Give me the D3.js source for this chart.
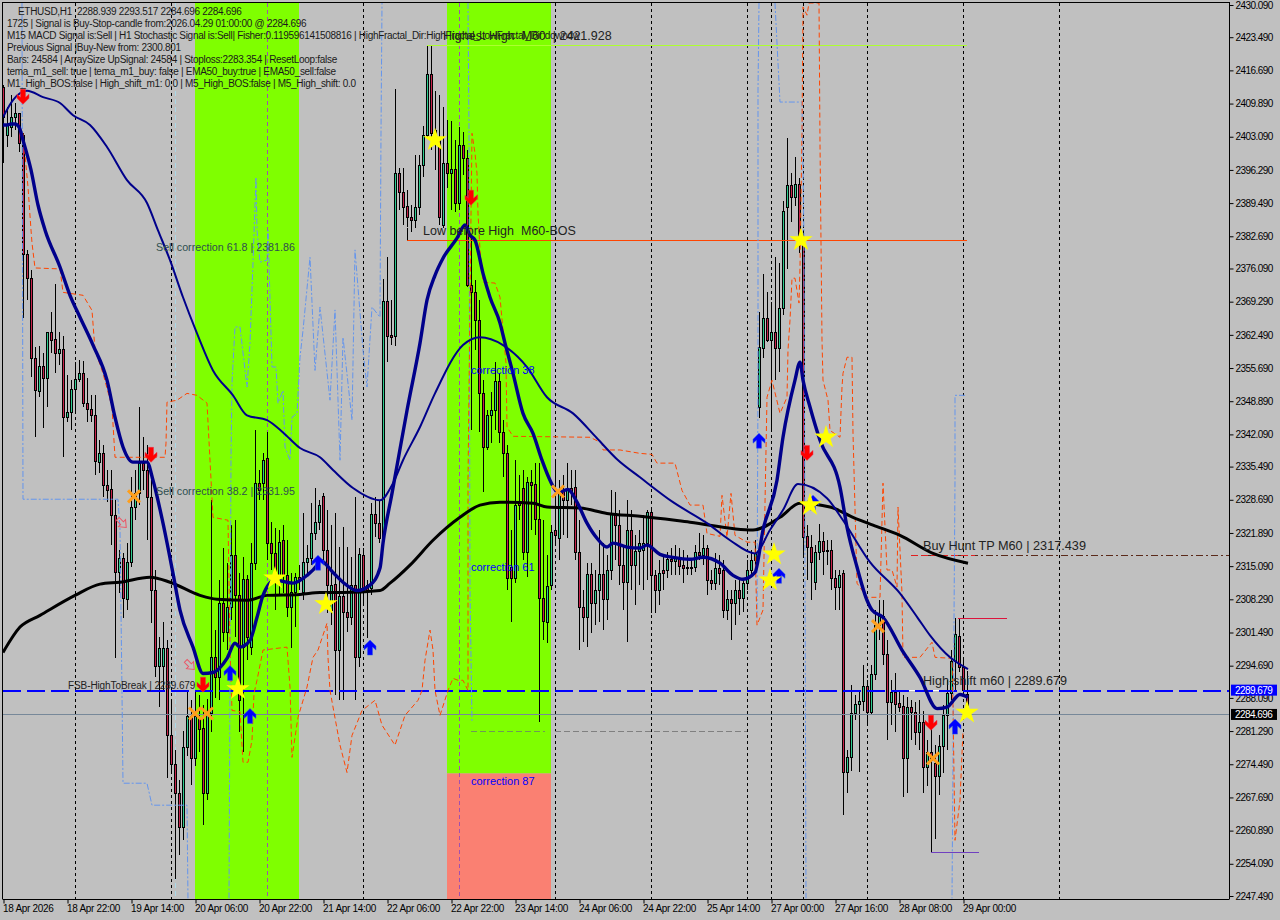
<!DOCTYPE html>
<html><head><meta charset="utf-8">
<script src="https://cdnjs.cloudflare.com/ajax/libs/d3/7.8.5/d3.min.js"></script>
<style>html,body{margin:0;padding:0;background:#c0c0c0;overflow:hidden}svg{display:block}text{font-family:"Liberation Sans",sans-serif}</style>
</head><body><div id="c"></div><script>
const opens=[2413.3,2403.4,2405.1,2407.1,2407.9,2403.4,2379.0,2374.1,2357.7,2350.9,
2356.1,2353.6,2363.0,2361.6,2358.7,2359.6,2345.6,2346.6,2351.3,2353.4,
2354.6,2348.5,2347.3,2346.0,2336.4,2338.2,2331.7,2330.9,2325.5,2313.8,
2316.7,2308.3,2315.9,2327.2,2330.0,2336.2,2334.8,2329.2,2310.1,2294.6,
2294.6,2298.3,2280.4,2274.5,2268.7,2261.6,2278.0,2284.3,2275.7,2283.9,
2281.9,2268.7,2284.9,2296.4,2292.3,2307.5,2301.5,2306.7,2317.3,2309.1,
2298.5,2312.4,2298.5,2315.7,2332.1,2332.1,2337.2,2319.8,2317.7,2313.2,
2320.4,2313.2,2306.7,2309.7,2312.8,2309.7,2315.9,2316.7,2321.8,2324.1,
2329.4,2318.5,2306.1,2311.4,2297.9,2308.9,2305.6,2304.6,2311.2,2296.4,
2317.3,2311.2,2310.6,2325.7,2323.9,2320.8,2369.4,2362.4,2362.2,2395.6,
2391.7,2388.9,2386.6,2386.0,2388.7,2397.3,2403.4,2415.9,2404.5,2402.4,
2385.0,2397.7,2395.6,2396.5,2389.5,2401.4,2398.7,2372.7,2371.2,2365.5,
2350.5,2339.5,2346.0,2347.0,2353.0,2342.5,2338.2,2314.9,2312.6,2328.2,
2331.1,2318.0,2332.3,2331.9,2324.7,2308.5,2303.6,2311.2,2322.5,2320.8,
2330.6,2328.6,2331.1,2331.3,2318.0,2306.7,2304.6,2313.4,2307.5,2310.1,
2313.4,2308.3,2314.3,2325.9,2323.5,2315.3,2311.8,2322.5,2315.3,2318.1,
2318.3,2319.8,2326.1,2313.2,2310.1,2314.4,2314.3,2316.5,2316.1,2316.9,
2315.3,2314.9,2314.7,2314.9,2318.0,2317.3,2318.8,2312.2,2311.6,2314.7,
2314.2,2306.1,2308.3,2307.5,2310.1,2308.5,2311.6,2314.3,2316.3,2347.7,
2359.8,2365.9,2361.4,2363.0,2359.8,2367.9,2388.7,2393.2,2390.7,2393.4,
2381.9,2321.2,2319.0,2311.8,2318.0,2320.2,2318.5,2318.3,2312.6,2310.8,
2313.6,2273.0,2275.9,2284.9,2286.8,2287.4,2290.5,2285.3,2292.9,2303.0,
2304.8,2297.0,2287.2,2289.2,2287.0,2286.4,2275.7,2286.2,2285.3,2281.0,
2283.1,2273.9,2276.9,2274.7,2272.0,2278.2,2284.5,2289.0,2295.6,2300.7,
2294.4,2288.939];
const highs=[2413.7,2409.2,2411.6,2410.0,2407.9,2403.8,2379.9,2375.7,2360.0,2360.2,
2358.7,2363.0,2367.1,2372.9,2363.0,2362.2,2354.2,2353.2,2356.9,2357.3,
2357.1,2353.6,2350.1,2350.1,2340.9,2339.9,2334.8,2334.8,2328.6,2318.3,
2317.7,2319.8,2333.3,2334.8,2347.7,2341.5,2339.9,2332.7,2314.3,2300.5,
2303.6,2299.9,2287.6,2277.4,2271.2,2281.4,2289.4,2287.6,2289.6,2288.6,
2286.6,2287.8,2328.6,2302.0,2312.2,2318.8,2315.7,2323.5,2324.5,2313.6,
2316.9,2313.2,2319.8,2342.9,2334.8,2338.2,2342.5,2324.1,2322.9,2322.5,
2323.5,2320.4,2313.6,2313.6,2315.3,2325.9,2319.4,2328.0,2331.1,2328.6,
2330.0,2326.5,2323.5,2325.9,2319.0,2323.1,2319.0,2316.9,2329.2,2318.8,
2318.8,2312.2,2328.0,2329.2,2328.6,2373.9,2378.4,2369.6,2412.9,2396.7,
2396.7,2392.1,2389.1,2399.3,2399.3,2405.3,2421.7,2421.9,2412.4,2411.6,
2409.2,2406.5,2406.3,2402.4,2405.1,2404.0,2400.4,2382.9,2373.7,2369.6,
2353.2,2347.0,2350.7,2356.9,2354.6,2345.0,2339.9,2322.5,2336.8,2333.7,
2334.8,2333.3,2334.8,2336.2,2336.2,2324.5,2317.3,2323.5,2336.8,2332.7,
2333.7,2336.2,2334.8,2334.8,2324.5,2310.1,2315.7,2315.7,2314.3,2322.5,
2319.8,2317.3,2330.6,2330.2,2326.5,2319.4,2328.6,2326.5,2321.4,2322.5,
2325.5,2326.5,2326.5,2314.3,2316.3,2317.3,2318.0,2318.8,2319.4,2318.8,
2318.3,2317.3,2316.3,2319.4,2321.8,2321.4,2319.4,2314.3,2317.7,2317.3,
2316.3,2310.1,2310.1,2312.2,2312.2,2312.2,2316.3,2318.3,2320.4,2367.1,
2374.9,2371.2,2369.2,2378.4,2377.2,2389.9,2402.8,2395.6,2398.9,2394.6,
2383.9,2323.5,2321.4,2319.4,2323.7,2322.0,2320.4,2320.4,2314.3,2314.3,
2314.3,2277.4,2290.7,2288.6,2289.6,2294.8,2291.7,2294.8,2306.1,2308.1,
2308.1,2299.9,2291.7,2293.1,2289.6,2288.6,2288.2,2287.6,2287.2,2287.6,
2285.5,2279.4,2283.1,2278.4,2280.4,2286.6,2291.7,2297.9,2304.4,2304.4,
2295.8,2293.517];
const lows=[2397.7,2401.0,2403.0,2404.5,2399.9,2365.9,2369.6,2353.8,2341.5,2349.7,
2343.4,2347.7,2358.7,2354.6,2356.3,2337.4,2344.6,2342.9,2346.6,2352.8,
2347.7,2344.6,2344.6,2333.7,2334.1,2329.2,2328.2,2319.4,2296.2,2309.5,
2304.4,2306.1,2314.9,2324.5,2327.6,2330.6,2320.4,2303.4,2292.3,2286.2,
2289.6,2271.6,2272.6,2250.9,2255.8,2258.9,2276.1,2270.2,2274.1,2277.1,
2262.0,2267.1,2281.0,2288.0,2287.6,2299.5,2297.9,2304.0,2300.5,2281.2,
2277.1,2295.8,2296.8,2314.3,2328.6,2328.6,2316.3,2314.3,2306.1,2309.1,
2309.5,2304.6,2298.3,2302.6,2310.1,2308.1,2313.2,2315.3,2320.4,2322.5,
2316.3,2305.4,2303.0,2288.6,2287.6,2287.6,2301.5,2303.0,2287.6,2294.4,
2307.5,2300.3,2309.1,2321.0,2319.8,2319.4,2356.9,2360.4,2360.2,2388.0,
2385.0,2384.6,2383.5,2384.4,2387.0,2394.8,2403.0,2400.4,2396.2,2385.0,
2384.4,2392.6,2388.0,2387.6,2388.0,2395.2,2372.3,2342.9,2359.4,2342.5,
2330.2,2338.9,2340.3,2342.9,2340.3,2333.3,2310.1,2303.6,2311.6,2324.5,
2316.3,2312.8,2322.5,2321.4,2283.1,2299.9,2299.3,2310.1,2319.4,2316.3,
2321.4,2320.8,2327.6,2316.3,2297.9,2299.5,2298.5,2301.3,2303.0,2303.6,
2302.0,2304.0,2312.2,2316.3,2311.2,2306.1,2299.5,2310.1,2307.1,2311.2,
2310.1,2312.2,2305.4,2305.4,2307.1,2310.1,2312.6,2313.2,2313.2,2313.2,
2311.6,2313.2,2313.2,2313.8,2316.3,2315.3,2309.1,2310.1,2310.1,2311.2,
2304.4,2304.0,2299.9,2303.0,2305.0,2305.6,2310.1,2313.2,2315.3,2345.4,
2357.7,2361.0,2342.9,2353.2,2354.8,2366.5,2375.9,2385.6,2388.9,2379.2,
2316.9,2312.2,2308.1,2310.1,2316.3,2313.2,2315.3,2310.1,2306.1,2306.1,
2264.0,2268.5,2273.2,2283.5,2273.0,2285.5,2282.5,2284.5,2291.7,2299.9,
2294.8,2279.4,2282.5,2281.0,2285.1,2267.7,2268.5,2279.4,2278.4,2277.4,
2268.7,2270.0,2256.6,2259.1,2268.1,2272.6,2277.4,2287.6,2289.6,2293.3,
2288.6,2284.696];
const closes=[2407.1,2405.5,2407.1,2407.9,2401.8,2379.0,2374.1,2357.7,2351.1,2356.1,
2353.6,2363.0,2361.4,2358.7,2359.6,2345.6,2346.6,2351.3,2353.4,2354.6,
2348.5,2347.3,2346.0,2336.6,2338.2,2331.7,2330.6,2325.5,2313.8,2316.7,
2308.5,2315.9,2327.2,2330.0,2336.2,2334.8,2329.2,2310.1,2294.6,2298.3,
2298.3,2280.4,2274.5,2268.7,2261.6,2278.0,2284.3,2275.7,2284.3,2281.7,
2268.7,2284.9,2296.4,2292.3,2307.5,2301.5,2306.7,2317.3,2309.1,2287.6,
2312.4,2300.5,2315.7,2332.1,2330.6,2336.8,2319.8,2317.7,2313.2,2320.0,
2313.2,2306.7,2309.7,2312.8,2312.2,2315.9,2316.7,2321.8,2324.1,2327.6,
2318.3,2311.2,2311.2,2297.9,2308.9,2305.6,2304.6,2311.2,2296.4,2317.5,
2310.1,2310.1,2325.7,2323.9,2320.8,2369.4,2362.2,2362.0,2395.6,2391.7,
2388.7,2386.6,2386.0,2388.7,2397.3,2403.4,2415.9,2403.8,2402.4,2386.6,
2397.7,2395.6,2396.5,2389.5,2401.4,2398.7,2372.7,2371.2,2365.5,2350.5,
2339.5,2346.0,2347.0,2353.0,2342.5,2338.2,2312.6,2312.6,2327.6,2327.6,
2318.0,2332.3,2331.7,2324.7,2308.5,2303.8,2311.0,2322.0,2321.4,2330.6,
2328.6,2330.6,2330.2,2318.0,2306.7,2304.6,2313.4,2307.5,2310.1,2313.4,
2308.3,2314.3,2325.9,2323.5,2315.3,2311.8,2322.5,2315.3,2318.1,2319.8,
2319.8,2326.1,2313.2,2310.1,2313.6,2313.6,2316.5,2316.1,2316.9,2315.1,
2314.7,2314.7,2314.9,2318.0,2317.3,2318.8,2312.2,2311.6,2314.7,2313.6,
2306.1,2308.3,2307.5,2310.1,2308.5,2311.6,2314.3,2316.3,2317.7,2360.0,
2365.9,2361.4,2363.0,2359.8,2367.9,2387.8,2393.2,2390.7,2393.4,2381.9,
2321.0,2319.0,2315.9,2318.0,2320.2,2318.1,2318.1,2312.6,2310.8,2313.2,
2273.0,2275.9,2284.9,2286.8,2287.4,2290.5,2285.3,2292.9,2303.0,2304.8,
2297.0,2287.2,2289.2,2286.8,2286.2,2275.7,2286.2,2285.3,2281.0,2283.1,
2273.9,2276.9,2275.3,2272.0,2278.2,2284.5,2289.0,2295.6,2301.1,2294.4,
2289.7,2284.696];

const fastBars=[0,1,2,3,4,5,7,8.75,10.5,14.25,16.75,19.25,22.5,26,28,30,32.5,36,37.5,40,42.5,44.25,47.5,50,52.5,56,58,59.25,61.75,63.5,65,68,72.5,76,78.5,79.25,82.5,85,88.5,91.75,94.25,95,97.25,98.75,101,104.25,106,108,110,113.5,115.5,116.75,118,120,121.75,124.25,125.5,127.5,130,132.5,134.75,136.75,138.75,141.25,143.5,146,148.5,151,152.5,156,159.25,161,164.25,167.5,171.75,175,179.25,182.5,185,188,190,193.5,195,198,199.25,200,201.75,204.25,209.25,211,213.5,216,217.25,220,224.75,229.25,233.5,236,239.25,241.25];
const fastPrices=[2405.5,2405.5,2405.7,2405.7,2405.1,2402.4,2396.3,2389.1,2384.0,2376.4,2370.6,2366.1,2360.4,2353.2,2345.6,2339.5,2336.4,2336.4,2332.7,2323.9,2313.6,2306.1,2298.5,2293.1,2293.3,2296.2,2299.3,2298.5,2299.9,2304.6,2309.1,2312.2,2311.6,2313.2,2315.3,2316.3,2313.8,2311.8,2310.1,2311.2,2314.7,2319.8,2330.0,2336.8,2347.0,2360.8,2369.6,2374.7,2378.2,2382.3,2385.0,2382.9,2381.9,2375.1,2370.2,2364.9,2360.8,2354.6,2346.4,2342.3,2336.8,2332.7,2330.2,2330.8,2328.2,2323.9,2320.8,2319.0,2319.8,2319.0,2318.8,2319.4,2317.5,2316.9,2316.5,2316.9,2315.7,2313.2,2312.4,2313.8,2322.5,2332.7,2341.5,2353.2,2356.9,2353.2,2347.7,2340.9,2331.3,2323.1,2314.9,2308.1,2306.1,2304.6,2297.9,2292.3,2285.9,2286.2,2288.8,2288.2];
const slowBars=[0,2.5,6,10,14.25,17.5,21.75,26,31,36,38.75,41.75,45,48.5,52.5,57.5,61,66,70,74.25,79.25,82.5,87.5,94.25,97.5,100,104.25,108,115,119.25,125,131,136,142.5,148.5,153.5,159.25,167.5,176,181.75,188,191.75,195,198.75,206,210,216.75,224.25,228.75,231.75,236.75,241.25];
const slowPrices=[2407.1,2410.6,2412.5,2411.2,2410.0,2407.5,2405.5,2401.0,2394.2,2389.5,2383.9,2377.8,2370.2,2362.8,2355.2,2350.1,2346.0,2345.0,2342.5,2339.3,2337.4,2334.8,2331.1,2328.6,2332.1,2336.8,2343.6,2350.5,2360.4,2362.0,2360.4,2355.9,2349.7,2346.4,2341.3,2337.0,2333.3,2328.2,2323.9,2320.4,2317.7,2322.5,2326.6,2331.9,2329.0,2324.5,2315.9,2309.5,2304.4,2300.9,2296.4,2294.0];
const longBars=[0,4.25,9.25,18,24.25,29.25,36.75,41.75,49.25,53.5,61,66,74.25,79.25,85,94.25,96.75,101.75,107.5,114.25,119.25,124.25,132.5,136,144.25,151,159.25,171.75,187.5,194.25,199.25,206.75,212.5,217.5,224.25,232.5,241.25];
const longPrices=[2297.4,2302.6,2305.0,2309.1,2311.4,2311.8,2312.8,2311.8,2309.1,2308.3,2308.1,2309.1,2309.3,2309.7,2309.7,2310.1,2311.6,2315.3,2320.4,2325.1,2327.6,2328.2,2328.0,2327.2,2327.0,2325.9,2325.3,2324.1,2322.5,2325.1,2328.0,2327.2,2325.1,2323.5,2321.4,2317.7,2315.7];

const orangeBars=[5,6.25,7,7.25,8,14.25,15,20,22.25,23,25,27.25,28,35.5,40.5,40.75,41,43.5,46,48.5,51,51.75,52.5,56.25,56.75,57.25,59.25,60,61.25,62.25,62.75,63.5,65,71,71.75,72.25,73.75,76,77.5,78.75,81,81.25,81.75,84.25,86,87.25,89.75,93,94.75,98,100.5,103.75,104.75,105.5,106.75,107.5,108,109.25,111.25,112.5,113.75,115,116.25,116.25,116.75,117.25,118,118.5,118.75,119.25,120,123,124.25,125,125.75,126,127.5,146.75,149.75,150,154.25,159.25,162.25,163.5,168,169.75,171.75,175,176,179.25,179.75,181,182,183,186,188,188.5,190,191,192.25,194.25,196,196.25,196.75,197.25,198,199,199.25,199.75,200,201,201.5,204,204.25,204.75,205,206.25,206.75,209.25,209.75,210,211,212.25,212.5,213.5,216,219.25,220,221,222.25,223.5,223.75,224.75,225,229.25,232.25,233,237.25,237.5,238,239.25,240];
const orangePrices=[2403.8,2392.8,2384.0,2381.3,2376.2,2376.0,2371.2,2370.6,2367.5,2359.4,2354.6,2347.7,2337.4,2337.4,2337.4,2340.3,2348.7,2349.1,2350.5,2350.1,2348.5,2336.8,2325.1,2324.5,2298.5,2285.5,2285.3,2274.9,2274.9,2279.4,2289.0,2291.7,2297.9,2298.5,2290.3,2275.9,2284.1,2290.3,2296.4,2297.9,2303.4,2296.4,2289.6,2278.4,2272.8,2280.4,2285.5,2287.6,2282.5,2278.4,2284.5,2287.6,2289.6,2295.8,2302.0,2297.9,2289.6,2284.5,2289.6,2292.1,2291.7,2291.7,2289.6,2332.7,2369.6,2403.8,2399.7,2395.6,2387.4,2379.9,2373.3,2373.1,2370.2,2363.4,2356.7,2343.6,2341.7,2341.5,2340.3,2338.9,2338.9,2338.2,2338.0,2336.2,2336.2,2330.6,2327.6,2327.6,2321.8,2321.2,2329.6,2321.0,2330.0,2321.4,2320.0,2320.0,2303.0,2306.1,2349.7,2353.2,2346.4,2349.7,2359.4,2365.5,2374.1,2374.1,2369.0,2376.4,2403.8,2429.7,2428.0,2430.5,2430.5,2401.8,2361.4,2353.2,2349.1,2342.9,2341.5,2351.8,2354.6,2357.9,2357.9,2342.3,2311.6,2308.7,2308.7,2332.1,2314.3,2314.3,2310.8,2327.2,2309.5,2296.4,2296.4,2299.5,2296.4,2296.2,2286.2,2258.9,2267.1,2281.4];

const blueBars=[4.75,5,28.75,29.25,29.75,30,36,37.25,46,46.25,null,
56.5,57,57.25,58,59.25,61,61.75,62.5,63.25,63.5,64.25,66,66.25,67.25,68.25,68.75,70,70.5,71.75,72.25,73.5,74.25,75,76.75,78,79.25,81.75,83,84.25,85,87.25,88,90,91,92.25,94.25,94.5,94.75,null,
116.25,116.5,116.75,117.25,null,
189,188.75,188.75,188.5,null,
193,193.75,194.25,199.75,200.25,200.75,null,
240.5,238,238,237.75,237.25];
const bluePrices=[2430.5,2328.8,2328.8,2322.5,2289.0,2270.6,2270.6,2266.1,2266.1,2246.6,null,
2247.0,2336.8,2352.6,2364.1,2364.1,2351.8,2360.8,2377.2,2394.8,2383.9,2377.4,2377.8,2383.9,2355.9,2355.9,2348.5,2351.1,2339.5,2336.8,2345.6,2346.4,2357.9,2363.4,2378.4,2355.2,2368.2,2349.1,2367.6,2336.8,2362.0,2345.0,2379.9,2359.4,2351.8,2368.2,2366.1,2403.8,2430.5,null,
2430.5,2403.8,2310.1,2283.0,null,
2430.5,2412.6,2353.2,2304.4,null,
2430.5,2418.2,2410.2,2410.2,2381.9,2247.0,null,
2350.1,2350.1,2332.7,2304.0,2247.0];

const redDownBars=[5,37,50,117,201,232];
const redDownPrices=[2411.4,2338.0,2290.9,2390.7,2338.4,2283.1];
const blueUpBars=[56.75,61.75,78.75,91.75,189,194,202.5,238];
const blueUpPrices=[2293.1,2284.3,2315.7,2298.3,2340.7,2313.0,2328.0,2282.1];
const starBars=[108,68,58.75,80.75,199.5,205.75,192.75,191.75,201.75,241];
const starPrices=[2402.4,2312.6,2289.9,2307.3,2381.9,2341.5,2317.5,2312.2,2327.6,2285.1];
const crossBars=[32.75,48,51,138.75,218.75,232.5];
const crossPrices=[2329.4,2284.9,2284.9,2330.4,2302.8,2275.7];
const hollowBars=[29.75,46.75];
const hollowPrices=[2323.9,2294.8];

const priceTicks=[2430.09,2423.49,2416.69,2409.89,2403.09,2396.29,2389.49,2382.69,2376.09,2369.29,2362.49,2355.69,2348.89,2342.09,2335.49,2328.69,2321.89,2315.09,2308.29,2301.49,2294.69,2288.09,2281.29,2274.49,2267.69,2260.89,2254.09,2247.49];
const dateTicks=["18 Apr 2026","18 Apr 22:00","19 Apr 14:00","20 Apr 06:00","20 Apr 22:00","21 Apr 14:00","22 Apr 06:00","22 Apr 22:00","23 Apr 14:00","24 Apr 06:00","24 Apr 22:00","25 Apr 14:00","27 Apr 00:00","27 Apr 16:00","28 Apr 08:00","29 Apr 00:00"];
const separatorBars=[18,42,90,138,162,186,192,200,216,240,264];
const purpleBars=[66,114];
const comments=["ETHUSD,H1  2288.939 2293.517 2284.696 2284.696",
"1725 | Signal is Buy-Stop-candle from:2026.04.29 01:00:00 @ 2284.696",
"M15 MACD Signal is:Sell | H1 Stochastic Signal is:Sell| Fisher:0.119596141508816 | HighFractal_Dir:HighFractal_LowFractal_Dir:downdw",
"Previous Signal |Buy-New from: 2300.801",
"Bars: 24584 | ArraySize UpSignal: 24584 | Stoploss:2283.354 | ResetLoop:false",
"tema_m1_sell: true | tema_m1_buy: false | EMA50_buy:true | EMA50_sell:false",
"M1_High_BOS:false | High_shift_m1: 0.0 | M5_High_BOS:false | M5_High_shift: 0.0"];

const W=1280,H=920;
const x=d3.scaleLinear().domain([0,240]).range([3,963]);
const y=d3.scaleLinear().domain([2247.49,2430.09]).range([896,5]);
const lastBar=306.5;
const svg=d3.select("#c").append("svg").attr("width",W).attr("height",H);
svg.append("rect").attr("width",W).attr("height",H).attr("fill","#c0c0c0");
const defs=svg.append("defs");
defs.append("clipPath").attr("id","plot").append("rect").attr("x",3).attr("y",3).attr("width",1226).attr("height",896);
const g=svg.append("g").attr("clip-path","url(#plot)");

// sessions
const bands=[[48,74,2430.5,2246,"#7fff00"],[111,137,2430.5,2272.6,"#7fff00"],[111,137,2272.6,2246,"#fa8072"]];
g.selectAll("rect.band").data(bands).join("rect").attr("x",d=>x(d[0])).attr("width",d=>x(d[1])-x(d[0])).attr("y",d=>y(d[2])).attr("height",d=>y(d[3])-y(d[2])).attr("fill",d=>d[4]);

function vline(bar,col,dash,w){g.append("line").attr("x1",x(bar)+.5).attr("x2",x(bar)+.5).attr("y1",3).attr("y2",899).attr("stroke",col).attr("stroke-width",w||1).attr("stroke-dasharray",dash).attr("shape-rendering","crispEdges");}
separatorBars.forEach(b=>vline(b,"#000","3 3"));
vline(43.1,"#add8e6","5 3");
purpleBars.forEach(b=>vline(b,"#a050b0","4 3"));

function hline(b0,b1,p,col,w,dash){g.append("line").attr("x1",x(b0)).attr("x2",x(b1)).attr("y1",Math.round(y(p))+.5).attr("y2",Math.round(y(p))+.5).attr("stroke",col).attr("stroke-width",w).attr("stroke-dasharray",dash||null).attr("shape-rendering","crispEdges");}

hline(117,135.5,2281.4,"#6f9a55",1,"6 3");
hline(138,186,2281.4,"#808080",1,"6 3");
hline(222,237,2289.679,"#ffffff",1.5);

// candles
const candles=opens.map((o,i)=>({i,o,h:highs[i],l:lows[i],c:closes[i]}));
const cg=g.append("g").attr("shape-rendering","crispEdges");
cg.selectAll("line").data(candles).join("line").attr("x1",d=>x(d.i)+.5).attr("x2",d=>x(d.i)+.5).attr("y1",d=>Math.round(y(d.h))).attr("y2",d=>Math.round(y(d.l))).attr("stroke","#000");
cg.selectAll("rect").data(candles).join("rect").attr("x",d=>x(d.i)-.5).attr("width",2).attr("y",d=>Math.round(y(Math.max(d.o,d.c)))+.5).attr("height",d=>Math.max(1,Math.round(y(Math.min(d.o,d.c)))-Math.round(y(Math.max(d.o,d.c))))).attr("fill",d=>d.c>=d.o?"#2ecc8f":"#c8234b").attr("stroke","#000");

// horizontals
hline(0,lastBar,2284.696,"#778899",1);
hline(0,lastBar,2289.679,"#0000ff",2,"18 6");
hline(106,241,2421.928,"#adff2f",1);
hline(101,241,2381.9,"#ff4500",1.5);
hline(227,lastBar,2317.439,"#5a2a1a",1,"7 3 2 3");
hline(227,243,2317.439,"#e02020",1,"7 3");
hline(238.75,251,2304.4,"#dc143c",1);
hline(232,244,2256.6,"#7040c0",1);
g.append("line").attr("x1",x(101)+.5).attr("x2",x(101)+.5).attr("y1",y(2384.4)).attr("y2",y(2381.9)).attr("stroke","#000");

// indicator lines
const ln=(bars,prices,curve)=>{const l=d3.line().defined((d,i)=>bars[i]!==null).x((d,i)=>x(bars[i])).y((d,i)=>y(prices[i]));if(curve)l.curve(curve);return l(bars);};
g.append("path").attr("d",ln(blueBars,bluePrices)).attr("fill","none").attr("stroke","#6495ed").attr("stroke-width",1).attr("stroke-dasharray","6 2 2 2");
g.append("path").attr("d",ln(orangeBars,orangePrices)).attr("fill","none").attr("stroke","#ff4500").attr("stroke-width",1).attr("stroke-dasharray","5 3");
g.append("path").attr("d",ln(longBars,longPrices,d3.curveMonotoneX)).attr("fill","none").attr("stroke","#000").attr("stroke-width",3);
g.append("path").attr("d",ln(slowBars,slowPrices,d3.curveMonotoneX)).attr("fill","none").attr("stroke","#00008b").attr("stroke-width",2);
g.append("path").attr("d",ln(fastBars,fastPrices,d3.curveMonotoneX)).attr("fill","none").attr("stroke","#00008b").attr("stroke-width",3.4);

// markers
const arrow="M-2.5,-7 L2.5,-7 L2.5,1 L6,-2 L6,2 L0,8 L-6,2 L-6,-2 L-2.5,1 Z";
g.selectAll("path.dn").data(redDownBars).join("path").attr("transform",(d,i)=>`translate(${x(d)},${y(redDownPrices[i])})`).attr("d",arrow).attr("fill","#ff0000").attr("stroke","#e8304a").attr("stroke-width",.5);
g.selectAll("path.up").data(blueUpBars).join("path").attr("transform",(d,i)=>`translate(${x(d)},${y(blueUpPrices[i])}) scale(1,-1)`).attr("d",arrow).attr("fill","#0000ff").attr("stroke","#3060e0").attr("stroke-width",.5);
g.selectAll("g.x").data(crossBars).join("path").attr("d",(d,i)=>{const a=x(d),b=y(crossPrices[i]);return `M${a-6},${b-6}L${a+6},${b+6}M${a+6},${b-6}L${a-6},${b+6}`}).attr("stroke","#ff9f1c").attr("stroke-width",3).attr("fill","none");
g.selectAll("path.h").data(hollowBars).join("path").attr("transform",(d,i)=>`translate(${x(d)},${y(hollowPrices[i])}) rotate(-45)`).attr("d","M-2,-6 L2,-6 L2,0 L5,0 L0,6 L-5,0 L-2,0 Z").attr("fill","none").attr("stroke","#ec5566").attr("stroke-width",1);
const star=d3.symbol().type(d3.symbolStar).size(170);
g.selectAll("path.s").data(starBars).join("path").attr("transform",(d,i)=>`translate(${x(d)},${y(starPrices[i])})`).attr("d",star).attr("fill","#ffff00");

// labels
function lab(px,py,t,col,fs,ls){svg.append("text").attr("x",px).attr("y",py).attr("fill",col).attr("font-size",fs).attr("letter-spacing",ls||0).style("white-space","pre").text(t);}
comments.forEach((t,i)=>lab(i?7:18,15+12.07*i,t,"#1a1a1a",10,-0.3));
lab(443,40,"Highest High  M60  | 2421.928","#222",12.5);
lab(423,235,"Low before High  M60-BOS","#222",12.5);
lab(156,251,"Sell correction 61.8 | 2381.86","#2f4f4f",10.7);
lab(156,495,"Sell correction 38.2 | 2331.95","#2f4f4f",10.7);
lab(471,374,"correction 38","#0000ff",11);
lab(471,571,"correction 61","#0000ff",11);
lab(471,785,"correction 87","#0000ff",11);
lab(68,689,"FSB-HighToBreak | 2289.679","#222",10,-0.1);
lab(923,685,"High-shift m60 | 2289.679","#222",12.6);
lab(923,550,"Buy Hunt TP M60 | 2317.439","#222",12.7);

// axes
const ya=d3.axisRight(y).tickValues(priceTicks).tickFormat(d3.format(".3f")).tickSize(4).tickSizeOuter(0);
const ay=svg.append("g").attr("transform","translate(1229.5,0)").call(ya);
ay.select(".domain").attr("d","M0,2V899").attr("stroke","#000");
ay.selectAll("text").attr("x",6).attr("font-size",10).attr("letter-spacing",-0.55).attr("fill","#000").style("font-family",'"Liberation Sans",sans-serif');
const xa=d3.axisBottom(x).tickValues(d3.range(dateTicks.length).map(i=>i*16)).tickFormat((d,i)=>dateTicks[i]).tickSize(4).tickSizeOuter(0);
const ax=svg.append("g").attr("transform","translate(0.5,899.5)").call(xa);
ax.select(".domain").attr("d","M2,0H1229").attr("stroke","#000");
ax.selectAll("text").attr("text-anchor","start").attr("x",-1).attr("y",5).attr("dy","0.71em").attr("font-size",10).attr("letter-spacing",-0.3).attr("fill","#000").style("font-family",'"Liberation Sans",sans-serif');
svg.append("line").attr("x1",2.5).attr("x2",2.5).attr("y1",2).attr("y2",899).attr("stroke","#000").attr("shape-rendering","crispEdges");
svg.append("line").attr("x1",2).attr("x2",1230).attr("y1",2.5).attr("y2",2.5).attr("stroke","#000").attr("shape-rendering","crispEdges");

// price flags
const flags=[[2289.679,"#0000ff"],[2284.696,"#000000"]];
flags.forEach(([p,col])=>{svg.append("rect").attr("x",1231).attr("y",y(p)-5.5).attr("width",46).attr("height",11).attr("fill",col);
svg.append("text").attr("x",1235).attr("y",y(p)+3.5).attr("font-size",10).attr("letter-spacing",-0.55).attr("fill","#fff").text(d3.format(".3f")(p));});
</script></body></html>
